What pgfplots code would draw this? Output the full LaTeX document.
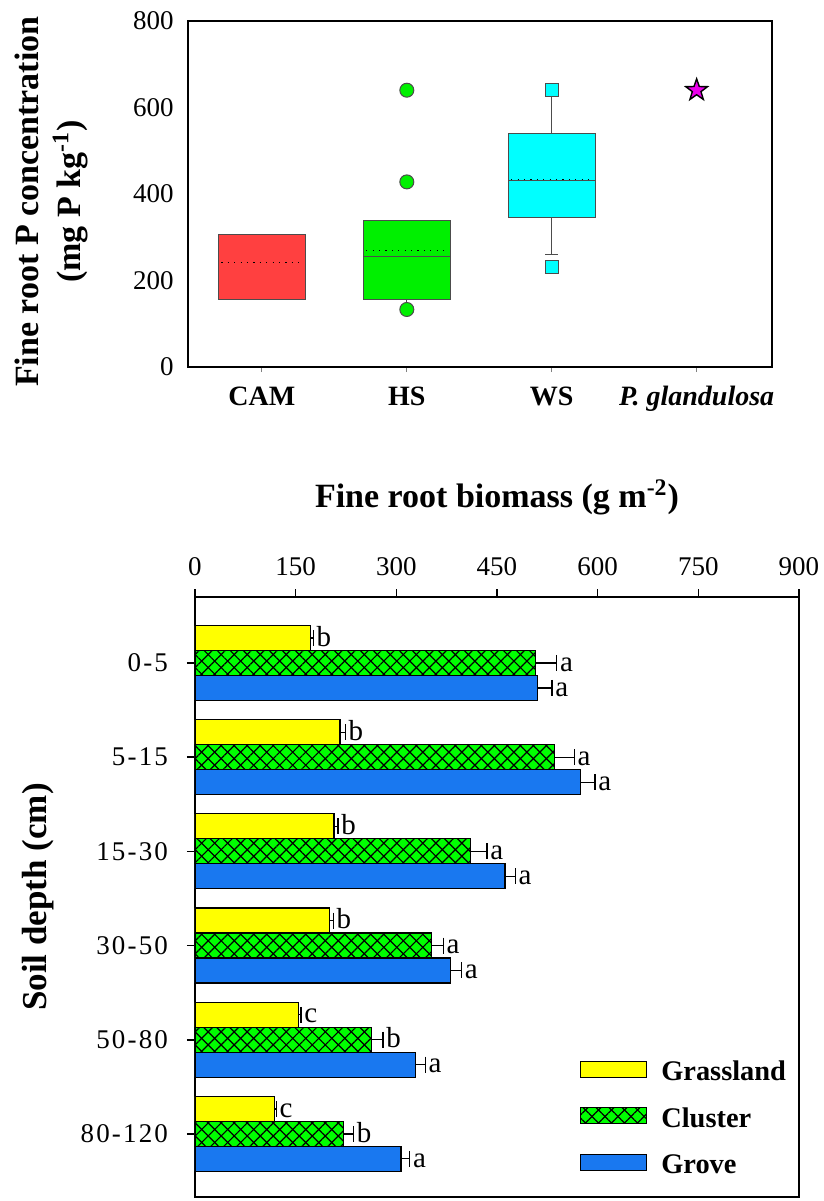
\documentclass[border=0pt]{standalone}
\usepackage{pgfplots}
\pgfplotsset{compat=1.18}
\usepackage{pgfplotstable}
\usetikzlibrary{patterns.meta}
\usepackage{fontspec}
\setmainfont{Liberation Serif}
\newfontfamily\spacedfont[LetterSpace=8]{Liberation Serif}

\definecolor{camred}{RGB}{255,64,64}
\definecolor{hsgreen}{RGB}{0,240,0}
\definecolor{wscyan}{RGB}{0,255,255}
\definecolor{pgmag}{RGB}{235,0,235}
\definecolor{grassY}{RGB}{255,255,0}
\definecolor{clusterG}{RGB}{0,255,0}
\definecolor{groveB}{RGB}{25,120,240}

% filled five-pointed star (outer radius = mark size, inner = 0.4 mark size)
\pgfdeclareplotmark{fstar}{%
  \pgfpathmoveto{\pgfqpoint{0pt}{\pgfplotmarksize}}%
  \pgfpathlineto{\pgfqpoint{-0.2351\pgfplotmarksize}{0.3236\pgfplotmarksize}}%
  \pgfpathlineto{\pgfqpoint{-0.9511\pgfplotmarksize}{0.3090\pgfplotmarksize}}%
  \pgfpathlineto{\pgfqpoint{-0.3804\pgfplotmarksize}{-0.1236\pgfplotmarksize}}%
  \pgfpathlineto{\pgfqpoint{-0.5878\pgfplotmarksize}{-0.8090\pgfplotmarksize}}%
  \pgfpathlineto{\pgfqpoint{0pt}{-0.4\pgfplotmarksize}}%
  \pgfpathlineto{\pgfqpoint{0.5878\pgfplotmarksize}{-0.8090\pgfplotmarksize}}%
  \pgfpathlineto{\pgfqpoint{0.3804\pgfplotmarksize}{-0.1236\pgfplotmarksize}}%
  \pgfpathlineto{\pgfqpoint{0.9511\pgfplotmarksize}{0.3090\pgfplotmarksize}}%
  \pgfpathlineto{\pgfqpoint{0.2351\pgfplotmarksize}{0.3236\pgfplotmarksize}}%
  \pgfpathclose
  \pgfusepathqfillstroke
}

% fine root biomass (g m^-2), mean, SE and letter per depth
\pgfplotstableread{
pos grass gerr glab clus cerr clab grove verr vlab
0   172   4    b    507  32   a    510   22   a
1   216   8    b    536  29   a    574   22   a
2   207   6    b    411  24   a    462   15   a
3   201   5    b    353  17   a    381   16   a
4   154   4    c    263  17   b    328   15   a
5   118   3    c    221  15   b    307   13   a
}\biomass

\pgfplotsset{
  barleg/.style={legend image code/.code={%
    \draw[##1] (0pt,-3.25pt) rectangle (33pt,4.75pt);}},
  letters/.style={draw=none, forget plot, nodes near coords, point meta=explicit symbolic,
    every node near coord/.style={anchor=base west, yshift=-4.1pt, inner sep=0.5pt, xshift=1pt,
      font=\fontsize{14.5}{16}\selectfont, text=black}},
  hatch/.style={postaction={pattern={Lines[angle=45,distance=4.6pt,line width=0.6pt]}},
                postaction={pattern={Lines[angle=-45,distance=4.6pt,line width=0.6pt]}}},
  meanline/.style={black, line width=0.5pt, dash pattern=on 0.6pt off 2.6pt},
  boxedge/.style={draw=black!70, line width=0.5pt},
  whisk/.style={black!70, line width=0.5pt},
}

\begin{document}
\begin{tikzpicture}
\useasboundingbox (0,0) rectangle (412pt,-600.5pt);

% ---- P concentration by community (box = quartiles, solid = median, dotted = mean) ----
\begin{axis}[
  at={(94pt,-10.5pt)}, anchor=north west,
  scale only axis, width=292pt, height=173pt,
  xmin=0.49, xmax=4.52, ymin=0, ymax=800,
  xtick={1,2,3,4}, xticklabels={CAM,HS,WS,\textit{P. glandulosa}},
  ytick={0,200,400,600,800},
  tick align=outside, major tick length=2.5pt,
  xtick pos=left, ytick pos=left,
  ytick style={draw=none},
  xtick style={gray, line width=0.5pt},
  axis line style={line width=1pt},
  /pgf/number format/assume math mode=true,
  yticklabel style={font=\fontsize{13.5}{15}\selectfont, xshift=-1.2pt},
  xticklabel style={font=\bfseries\fontsize{14}{16}\selectfont, text height=9.5pt, text depth=3pt, yshift=-3.5pt},
  ylabel={Fine root P concentration\\(mg P kg\textsuperscript{-1})},
  ylabel style={at={(axis description cs:-0.233,0.478)}, anchor=center, align=center,
    font=\bfseries\fontsize{17}{21}\selectfont},
]
% CAM
\addplot[boxedge, fill=camred] coordinates {(0.7,157) (1.3,157) (1.3,307) (0.7,307) (0.7,157)};
\addplot[meanline] coordinates {(0.72,242) (1.28,242)};
% HS
\addplot[boxedge, fill=hsgreen] coordinates {(1.7,157) (2.3,157) (2.3,338) (1.7,338) (1.7,157)};
\addplot[whisk] coordinates {(1.7,256) (2.3,256)};
\addplot[meanline] coordinates {(1.72,270) (2.28,270)};
\addplot[whisk] coordinates {(2,157) (2,137)};
\addplot[only marks, mark=*, mark size=3.5pt, mark options={fill=hsgreen, draw=black!70, line width=0.5pt}]
  coordinates {(2,640) (2,428) (2,133)};
\addplot[whisk] coordinates {(1.955,137) (2.045,137)};
% WS
\addplot[boxedge, fill=wscyan] coordinates {(2.7,345) (3.3,345) (3.3,539) (2.7,539) (2.7,345)};
\addplot[whisk] coordinates {(2.7,432) (3.3,432)};
\addplot[meanline] coordinates {(2.72,434) (3.28,434)};
\addplot[whisk] coordinates {(3,539) (3,627)};
\addplot[whisk] coordinates {(2.955,627) (3.045,627)};
\addplot[whisk] coordinates {(3,345) (3,261)};
\addplot[whisk] coordinates {(2.955,261) (3.045,261)};
\addplot[only marks, mark=square*, mark size=3.25pt, mark options={fill=wscyan, draw=black!70, line width=0.5pt}]
  coordinates {(3,640) (3,231)};
% P. glandulosa
\addplot[only marks, mark=fstar, mark size=5.7pt,
  mark options={fill=pgmag, draw=black, line width=0.7pt}] coordinates {(4,640)};
\end{axis}

% ---- fine root biomass by soil depth ----
\begin{axis}[
  at={(97.5pt,-298.5pt)}, anchor=north west,
  scale only axis, width=302pt, height=300pt,
  xmin=0, xmax=900, xtick={0,150,...,900},
  ymin=-0.70, ymax=5.67, y dir=reverse,
  ytick={0,...,5}, yticklabels={0-5\ ,5-15,15-30,30-50,50-80,80-120},
  xtick pos=right, xticklabel pos=right, ytick pos=left,
  tick align=outside, major tick length=4pt,
  axis line style={line width=0.9pt},
  tick style={black, line width=0.8pt},
  /pgf/number format/assume math mode=true,
  xticklabel style={font=\fontsize{13.5}{15}\selectfont, yshift=3pt},
  yticklabel style={font=\spacedfont\fontsize{13.5}{15}\selectfont, xshift=-6pt},
  xlabel={Fine root biomass (g m\textsuperscript{-2})},
  xlabel style={at={(axis description cs:0.5,1.166)}, anchor=center,
    font=\bfseries\fontsize{17}{20}\selectfont},
  ylabel={Soil depth (cm)},
  ylabel style={at={(axis description cs:-0.26,0.5)}, anchor=center,
    font=\bfseries\fontsize{17.5}{20}\selectfont},
  bar width=0.265, bar shift=0pt,
  legend cell align=left,
  legend style={at={(axis description cs:0.637,0.228)}, anchor=north west,
    draw=none, fill=none, inner sep=0pt, row sep=13.25pt,
    font=\bfseries\fontsize{14.2}{16}\selectfont,
    nodes={inner sep=0pt, text height=10pt, text depth=0pt}},
  error bars/error bar style={black, line width=0.6pt},
  error bars/error mark options={rotate=90, mark size=4pt, line width=0.6pt, black},
]
\addplot[xbar, barleg, fill=grassY, draw=black, line width=0.6pt,
  error bars/.cd, x dir=plus, x explicit]
  table[x=grass, y expr=\thisrow{pos}-0.265, x error=gerr] {\biomass};
\addlegendentry{\hspace*{7pt}Grassland}
\addplot[xbar, barleg, fill=clusterG, draw=black, line width=0.6pt, hatch,
  error bars/.cd, x dir=plus, x explicit]
  table[x=clus, y=pos, x error=cerr] {\biomass};
\addlegendentry{\hspace*{7pt}Cluster}
\addplot[xbar, barleg, fill=groveB, draw=black, line width=0.6pt,
  error bars/.cd, x dir=plus, x explicit]
  table[x=grove, y expr=\thisrow{pos}+0.265, x error=verr] {\biomass};
\addlegendentry{\hspace*{7pt}Grove}

\addplot[letters] table[x expr=\thisrow{grass}+\thisrow{gerr}, y expr=\thisrow{pos}-0.265, meta=glab] {\biomass};
\addplot[letters] table[x expr=\thisrow{clus}+\thisrow{cerr}, y=pos, meta=clab] {\biomass};
\addplot[letters] table[x expr=\thisrow{grove}+\thisrow{verr}, y expr=\thisrow{pos}+0.265, meta=vlab] {\biomass};
\end{axis}
\end{tikzpicture}
\end{document}
